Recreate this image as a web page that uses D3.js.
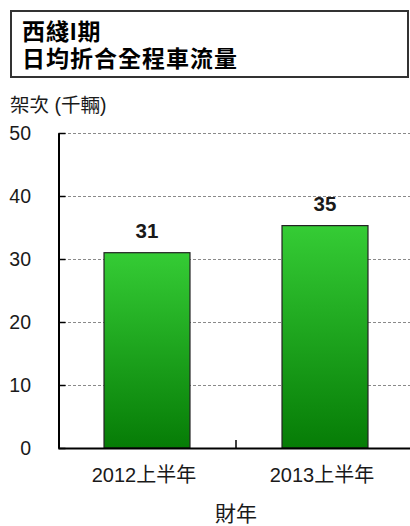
<!DOCTYPE html>
<html>
<head>
<meta charset="utf-8">
<script src="https://cdn.jsdelivr.net/npm/d3@7"></script>
<style>
  html, body { margin: 0; padding: 0; background: #fff; }
  svg { display: block; }
  text { font-family: "Liberation Sans", Arial, "Noto Sans CJK TC", sans-serif; fill: #1a1a1a; }
</style>
</head>
<body>
<svg id="chart" width="410" height="526"></svg>
<script>
// Chart data
const titleLines = ["西綫I期", "日均折合全程車流量"];
const yAxisTitle = "架次 (千輛)";
const xAxisTitle = "財年";
const categories = ["2012上半年", "2013上半年"];
const values = [31.0, 35.3];
const yTicks = [0, 10, 20, 30, 40, 50];

const svg = d3.select("#chart");

// Title box
svg.append("rect")
  .attr("x", 11).attr("y", 11).attr("width", 397).attr("height", 66)
  .attr("fill", "#fff").attr("stroke", "#333").attr("stroke-width", 2);

// Two-line title; the Latin font leads so the line boxes stay compact
svg.append("text")
  .attr("class", "title")
  .attr("font-size", 23)
  .attr("font-weight", "bold")
  .attr("letter-spacing", 1)
  .style("font-family", "'Liberation Sans', 'Noto Sans CJK TC', sans-serif")
  .style("fill", "#000")
  .selectAll("tspan").data(titleLines).join("tspan")
  .attr("x", 22)
  .attr("y", (d, i) => 40 + i * 27)
  .text(d => d);

// Plot area
const plotLeft = 58, plotRight = 414, plotTop = 133, plotBottom = 448;

const x = d3.scaleBand().domain(categories).range([plotLeft, plotRight])
  .paddingInner(0.517).paddingOuter(0.2585);
const y = d3.scaleLinear().domain([0, 50]).range([plotBottom, plotTop]);

// Bar gradient
const defs = svg.append("defs");
const grad = defs.append("linearGradient").attr("id", "barGrad")
  .attr("x1", 0).attr("y1", 0).attr("x2", 0).attr("y2", 1);
grad.append("stop").attr("offset", "0%").attr("stop-color", "#35cc35");
grad.append("stop").attr("offset", "100%").attr("stop-color", "#067c06");

// Dashed gridlines
svg.append("g").selectAll("line").data(yTicks.filter(t => t > 0)).join("line")
  .attr("x1", plotLeft).attr("x2", 410)
  .attr("y1", d => y(d) + 0.5).attr("y2", d => y(d) + 0.5)
  .attr("stroke", "#8a8a8a").attr("stroke-width", 1)
  .attr("stroke-dasharray", "3,2");

// Y axis with inward ticks
const yAxis = svg.append("g")
  .attr("transform", `translate(${plotLeft + 0.5},0)`)
  .call(d3.axisRight(y).tickValues(yTicks).tickSize(7).tickSizeOuter(0).tickFormat(""));
yAxis.select(".domain").attr("stroke", "#000").attr("stroke-width", 2);
yAxis.selectAll(".tick line").attr("stroke", "#000").attr("stroke-width", 1.5);

svg.append("g").selectAll("text").data(yTicks).join("text")
  .attr("x", 31).attr("y", d => y(d) + 7)
  .attr("text-anchor", "end")
  .attr("font-size", 19.5)
  .text(d => d);

// Bars
svg.append("g").selectAll("rect").data(values).join("rect")
  .attr("x", (d, i) => x(categories[i]))
  .attr("y", d => y(d))
  .attr("width", x.bandwidth())
  .attr("height", d => plotBottom - y(d))
  .attr("fill", "url(#barGrad)")
  .attr("stroke", "#222").attr("stroke-width", 1.2);

// Value labels
svg.append("g").selectAll("text").data(values).join("text")
  .attr("x", (d, i) => x(categories[i]) + x.bandwidth() / 2)
  .attr("y", d => y(d) - 15)
  .attr("text-anchor", "middle")
  .attr("font-size", 20.5)
  .attr("font-weight", "bold")
  .text(d => Math.round(d));

// X axis
const xAxis = svg.append("g")
  .attr("transform", `translate(0,${plotBottom})`)
  .call(d3.axisTop(x).tickSize(0).tickSizeOuter(0).tickFormat(""));
xAxis.select(".domain").attr("stroke", "#000").attr("stroke-width", 2);
xAxis.selectAll(".tick").remove();

// Divider tick between categories
const midX = (x(categories[0]) + x.bandwidth() + x(categories[1])) / 2;
svg.append("line")
  .attr("x1", midX).attr("x2", midX)
  .attr("y1", plotBottom).attr("y2", plotBottom - 8)
  .attr("stroke", "#000").attr("stroke-width", 1.5);

svg.append("g").selectAll("text").data(categories).join("text")
  .attr("x", d => x(d) + x.bandwidth() / 2 - 3)
  .attr("y", 482)
  .attr("text-anchor", "middle")
  .attr("font-size", 20)
  .text(d => d);

// Axis titles
svg.append("text")
  .attr("x", 10).attr("y", 112)
  .attr("font-size", 19.5)
  .text(yAxisTitle);

svg.append("text")
  .attr("x", 236).attr("y", 521)
  .attr("text-anchor", "middle")
  .attr("font-size", 21)
  .text(xAxisTitle);
</script>
</body>
</html>
